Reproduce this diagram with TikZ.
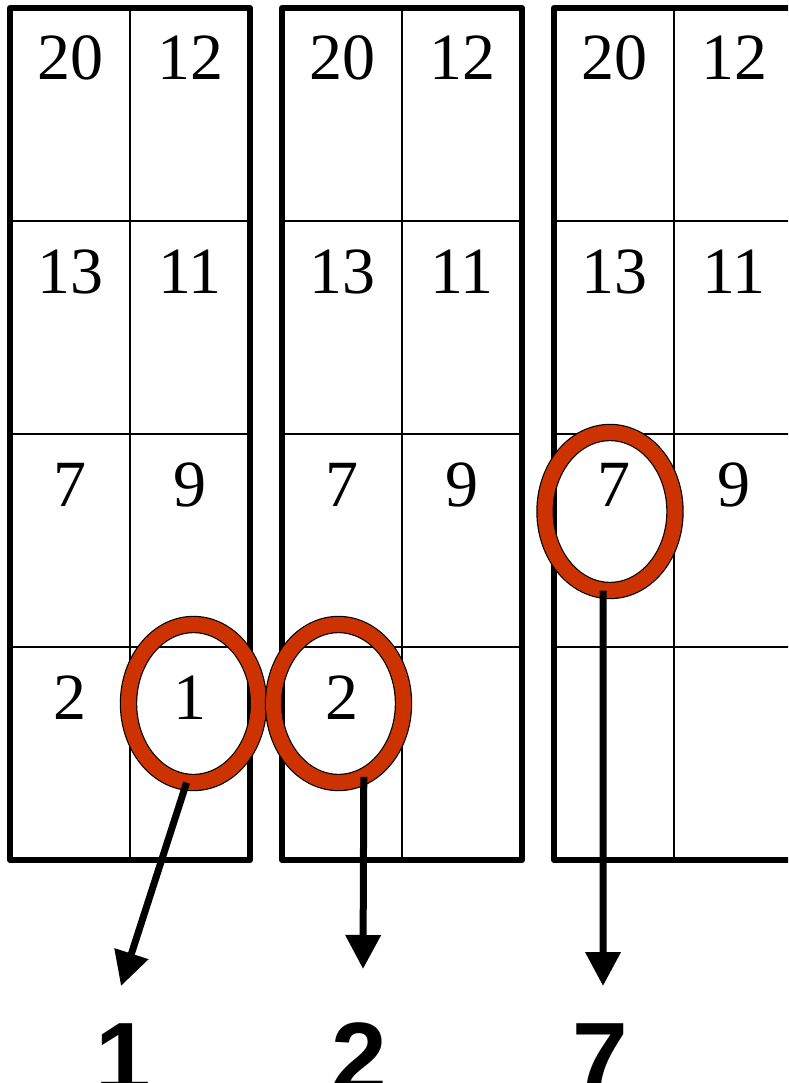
\documentclass[tikz,border=0pt]{standalone}
\usepackage{fontspec}
\setmainfont{Liberation Serif}
\newfontfamily\labelfont{Liberation Sans}
\definecolor{myred}{HTML}{CC3300}
\usepackage{tikz}
\usetikzlibrary{shapes.geometric, arrows.meta}
\tikzset{
	numnode/.style={
			anchor=base,
			inner sep=0pt,
			font=\fontsize{66}{66}\selectfont
		},
	ringnode/.style={
			ellipse,
			draw=black,
			line width=1.2pt,
			double=myred,
			double distance=15pt,
			minimum width=130pt,
			minimum height=158pt,
			inner sep=0pt
		},
	labelnode/.style={
			anchor=base,
			inner sep=0pt,
			font=\labelfont\bfseries\fontsize{100}{100}\selectfont
		},
	boxline/.style={
			line width=6pt,
			line join=round
		},
	cellline/.style={
			line width=1.4pt
		},
	pointer/.style={
			line width=7pt,
			-{Triangle[width=34pt,length=34pt]}
		}
}

\begin{document}
\begin{tikzpicture}[x=1pt, y=-1pt]
\useasboundingbox (0,0) rectangle (788,1083);
\clip (0,0) rectangle (788,1083);

    % cell lines
    \draw[cellline] (130,8) -- (130,860);
    \draw[cellline] (402,8) -- (402,860);
    \draw[cellline] (674,8) -- (674,860);
    \draw[cellline] (10,221) -- (250,221);
    \draw[cellline] (10,434) -- (250,434);
    \draw[cellline] (10,647) -- (250,647);
    \draw[cellline] (282,221) -- (522,221);
    \draw[cellline] (282,434) -- (522,434);
    \draw[cellline] (282,647) -- (522,647);
    \draw[cellline] (554,221) -- (794,221);
    \draw[cellline] (554,434) -- (794,434);
    \draw[cellline] (554,647) -- (794,647);

    % boxes
    \draw[boxline] (10,8) rectangle (250,860);
    \draw[boxline] (282,8) rectangle (522,860);
    \draw[boxline] (554,8) rectangle (794,860);

    % first box
    \node[numnode] (a1) at (70,80)  { 20 };
    \node[numnode] (a2) at (190,80)  { 12 };
    \node[numnode] (a3) at (70,293)  { 13 };
    \node[numnode] (a4) at (190,293)  { 11 };
    \node[numnode] (a5) at (70,506)  { 7 };
    \node[numnode] (a6) at (190,506)  { 9 };
    \node[numnode] (a7) at (70,719)  { 2 };
    \node[numnode] (a8) at (190,719)  { 1 };

    % second box
    \node[numnode] (b1) at (342,80)  { 20 };
    \node[numnode] (b2) at (462,80)  { 12 };
    \node[numnode] (b3) at (342,293)  { 13 };
    \node[numnode] (b4) at (462,293)  { 11 };
    \node[numnode] (b5) at (342,506)  { 7 };
    \node[numnode] (b6) at (462,506)  { 9 };
    \node[numnode] (b7) at (342,719)  { 2 };

    % third box
    \node[numnode] (c1) at (614,80)  { 20 };
    \node[numnode] (c2) at (734,80)  { 12 };
    \node[numnode] (c3) at (614,293)  { 13 };
    \node[numnode] (c4) at (734,293)  { 11 };
    \node[numnode] (c5) at (614,506)  { 7 };
    \node[numnode] (c6) at (734,506)  { 9 };

    % rings
    \node[ringnode] (e1) at (193.5,703.5) {};
    \node[ringnode] (e2) at (338.5,703.5) {};
    \node[ringnode] (e3) at (610,511.5) {};

    % results
    \node[labelnode] (l1) at (123,1092)  { 1 };
    \node[labelnode] (l2) at (359,1092)  { 2 };
    \node[labelnode] (l7) at (600,1092)  { 7 };

    \coordinate (t1) at (121,986);
    \coordinate (t2) at (363,969);
    \coordinate (t7) at (603,986);

    \draw[pointer] (e1.265) -- (t1);
    \draw[pointer] (e2.-71) -- (t2);
    \draw[pointer] (e3.-95) -- (t7);

\end{tikzpicture}
\end{document}
